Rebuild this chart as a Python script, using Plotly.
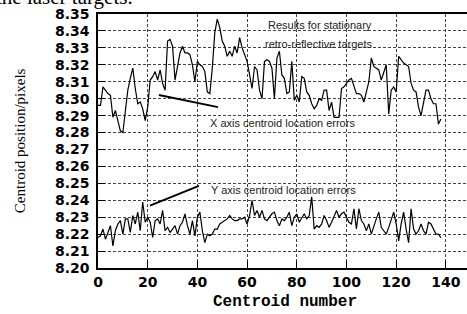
import plotly.graph_objects as go

centroid = list(range(0, 139))

x_errors = [
    8.296, 8.296, 8.307, 8.305, 8.303, 8.302, 8.289, 8.293, 8.286, 8.281,
    8.280, 8.294, 8.305, 8.312, 8.318, 8.306, 8.297, 8.298, 8.294, 8.287,
    8.295, 8.311, 8.313, 8.316, 8.311, 8.317, 8.309, 8.305, 8.334, 8.335,
    8.331, 8.311, 8.320, 8.327, 8.331, 8.327, 8.327, 8.326, 8.320, 8.310,
    8.322, 8.320, 8.319, 8.316, 8.304, 8.303, 8.318, 8.339, 8.347, 8.342,
    8.334, 8.331, 8.325, 8.328, 8.325, 8.331, 8.327, 8.336, 8.330, 8.326,
    8.322, 8.314, 8.306, 8.319, 8.317, 8.305, 8.300, 8.322, 8.323, 8.322,
    8.318, 8.300, 8.324, 8.328, 8.314, 8.312, 8.303, 8.304, 8.322, 8.299,
    8.302, 8.298, 8.313, 8.312, 8.304, 8.302, 8.297, 8.294, 8.296, 8.300,
    8.299, 8.305, 8.305, 8.293, 8.298, 8.289, 8.289, 8.289, 8.306, 8.307,
    8.309, 8.311, 8.312, 8.307, 8.303, 8.303, 8.302, 8.298, 8.304, 8.310,
    8.324, 8.319, 8.318, 8.317, 8.311, 8.315, 8.320, 8.291, 8.305, 8.307,
    8.304, 8.325, 8.323, 8.321, 8.320, 8.319, 8.309, 8.305, 8.304, 8.295,
    8.290, 8.297, 8.305, 8.305, 8.300, 8.297, 8.297, 8.285, 8.288,
]

y_errors = [
    8.218, 8.219, 8.223, 8.217, 8.221, 8.225, 8.213, 8.222, 8.226, 8.228,
    8.220, 8.229, 8.229, 8.221, 8.231, 8.226, 8.233, 8.222, 8.239, 8.227,
    8.230, 8.227, 8.218, 8.228, 8.229, 8.226, 8.234, 8.222, 8.224, 8.221,
    8.223, 8.225, 8.220, 8.225, 8.227, 8.232, 8.225, 8.220, 8.228, 8.219,
    8.230, 8.233, 8.222, 8.215, 8.220, 8.219, 8.220, 8.223, 8.223, 8.226,
    8.227, 8.228, 8.229, 8.231, 8.229, 8.228, 8.228, 8.229, 8.229, 8.230,
    8.226, 8.231, 8.240, 8.231, 8.234, 8.230, 8.234, 8.229, 8.228, 8.230,
    8.232, 8.233, 8.228, 8.225, 8.229, 8.228, 8.230, 8.233, 8.225, 8.230,
    8.232, 8.227, 8.230, 8.232, 8.229, 8.231, 8.242, 8.223, 8.225, 8.224,
    8.226, 8.231, 8.228, 8.224, 8.227, 8.230, 8.234, 8.230, 8.232, 8.233,
    8.230, 8.227, 8.226, 8.235, 8.223, 8.235, 8.228, 8.226, 8.222, 8.226,
    8.220, 8.225, 8.229, 8.233, 8.224, 8.222, 8.220, 8.224, 8.228, 8.233,
    8.226, 8.216, 8.226, 8.233, 8.223, 8.215, 8.235, 8.223, 8.220, 8.222,
    8.226, 8.222, 8.220, 8.227, 8.226, 8.223, 8.220, 8.220, 8.218,
]

x_ticks = [0, 20, 40, 60, 80, 100, 120, 140]
y_ticks = [8.20, 8.21, 8.22, 8.23, 8.24, 8.25, 8.26, 8.27, 8.28, 8.29,
           8.30, 8.31, 8.32, 8.33, 8.34, 8.35]
y_tick_labels = ["%.2f" % v for v in y_ticks]

labels = ["Results for stationary", "retro-reflective targets",
          "X axis centroid location errors", "Y axis centroid location errors"]
label_x = [67.5, 66.3, 44.2, 44.6]
label_y = [8.3438, 8.3322, 8.2856, 8.2458]

leader_x0 = [24.5, 20.9]
leader_y0 = [8.3022, 8.2368]
leader_x1 = [48.3, 40.6]
leader_y1 = [8.2950, 8.2485]

fig = go.Figure()
fig.add_trace(go.Scatter(x=centroid, y=x_errors, mode="lines",
                         line=dict(color="black", width=1.2), showlegend=False))
fig.add_trace(go.Scatter(x=centroid, y=y_errors, mode="lines",
                         line=dict(color="black", width=1.2), showlegend=False))

for t, xx, yy in zip(labels, label_x, label_y):
    fig.add_annotation(x=xx, y=yy, text=t, showarrow=False, xanchor="left",
                       yanchor="middle",
                       font=dict(family="Liberation Sans, Arial", size=11, color="#222"))

for a, b, c, d in zip(leader_x0, leader_y0, leader_x1, leader_y1):
    fig.add_shape(type="line", x0=a, y0=b, x1=c, y1=d, xref="x", yref="y",
                  line=dict(color="black", width=2))

fig.add_annotation(xref="paper", yref="paper", x=-0.283, y=1.065,
                   xanchor="left", yanchor="middle", showarrow=False,
                   text="the laser targets.",
                   font=dict(family="Liberation Serif, Times New Roman", size=21, color="black"))

fig.add_annotation(xref="paper", yref="paper", x=-0.211, y=0.5,
                   xanchor="center", yanchor="middle", showarrow=False, textangle=-90,
                   text="Centroid position/pixels",
                   font=dict(family="Liberation Serif, Times New Roman", size=15, color="black"))

fig.add_annotation(xref="paper", yref="paper", x=0.507, y=-0.134,
                   xanchor="center", yanchor="middle", showarrow=False,
                   text="Centroid number",
                   font=dict(family="Liberation Mono, Courier New", size=16,
                             weight="bold", color="black"))

fig.update_layout(
    width=467, height=314,
    margin=dict(l=98, r=0, t=14, b=46, autoexpand=False),
    paper_bgcolor="white", plot_bgcolor="white",
    xaxis=dict(range=[0, 148.5], tickvals=x_ticks, ticks="inside", ticklen=7,
               automargin=False, ticklabeloverflow="allow",
               tickcolor="black", showline=True, linecolor="black", linewidth=1.5,
               mirror=True, showgrid=True, gridcolor="#444", griddash="3px,2px",
               gridwidth=1, zeroline=False,
               tickfont=dict(family="DejaVu Sans", size=14, weight="bold", color="black")),
    yaxis=dict(range=[8.20, 8.35], tickvals=y_ticks, ticktext=y_tick_labels,
               automargin=False, ticklabelstandoff=4, ticklabeloverflow="allow",
               ticks="inside", ticklen=7, tickcolor="black",
               showline=True, linecolor="black", linewidth=1.5, mirror=False,
               showgrid=True, gridcolor="#444", griddash="3px,2px", gridwidth=1,
               zeroline=False,
               tickfont=dict(family="DejaVu Sans", size=14, weight="bold", color="black")),
)

fig.write_html(
    "out.html",
    config={"displayModeBar": False, "responsive": False},
    post_script="document.body.style.margin='0';document.body.style.overflow='hidden';",
)
